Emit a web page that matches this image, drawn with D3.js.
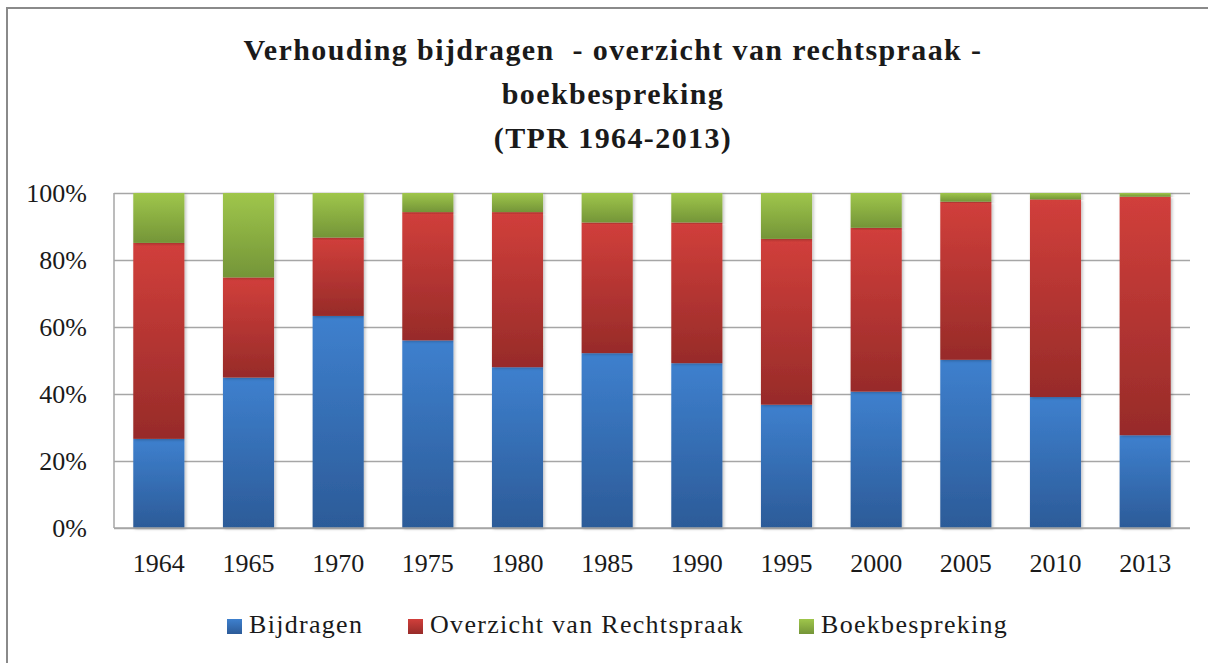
<!DOCTYPE html>
<html>
<head>
  <title>Verhouding bijdragen</title>
  <script src="https://d3js.org/d3.v7.min.js"></script>
  <style>
    html, body { margin: 0; background: #fff; overflow: hidden; }
    svg { display: block; }
    text { font-family: "Liberation Serif", "DejaVu Serif", serif; fill: #1a1a1a; }
  </style>
</head>
<body>

  <svg></svg>

  <script>

    // Data (share in %)
    var years = ["1964", "1965", "1970", "1975", "1980", "1985", "1990", "1995", "2000", "2005", "2010", "2013"];
    var bijdragen = [26.6, 44.9, 63.3, 56.0, 48.0, 52.2, 49.2, 36.8, 40.7, 50.2, 39.1, 27.7];
    var overzicht = [58.5, 29.9, 23.4, 38.3, 46.3, 39.0, 42.0, 49.5, 48.9, 47.2, 59.0, 71.2];
    var boek      = [14.9, 25.2, 13.3, 5.7, 5.7, 8.8, 8.8, 13.7, 10.4, 2.6, 1.9, 1.1];
    var yTicks = [0, 0.2, 0.4, 0.6, 0.8, 1];
    var seriesNames = ["Bijdragen", "Overzicht van Rechtspraak", "Boekbespreking"];
    var titleLines = ["Verhouding bijdragen  - overzicht van rechtspraak -", "boekbespreking", "(TPR 1964-2013)"];

    var W = 1208, H = 663;
    var margin = {top: 193, right: 18, bottom: 135, left: 114},
        width = W - margin.left - margin.right,
        height = H - margin.top - margin.bottom;

    var svg = d3.select("svg")
        .attr("width", W)
        .attr("height", H);

    // gradients per series (light top, dark bottom)
    var grads = [
      {id: "gBlue",  top: "#3e80ce", bottom: "#2c5b98"},
      {id: "gRed",   top: "#d13f3b", bottom: "#972b29"},
      {id: "gGreen", top: "#9fc64b", bottom: "#749538"}
    ];
    var defs = svg.append("defs");
    grads.forEach(function(g) {
      var lg = defs.append("linearGradient")
          .attr("id", g.id)
          .attr("x1", 0).attr("y1", 0).attr("x2", 0).attr("y2", 1);
      lg.append("stop").attr("offset", "0%").attr("stop-color", g.top);
      lg.append("stop").attr("offset", "100%").attr("stop-color", g.bottom);
    });
    var shadow = defs.append("filter").attr("id", "shadow")
        .attr("x", "-20%").attr("y", "-5%").attr("width", "140%").attr("height", "110%");
    shadow.append("feDropShadow")
        .attr("dx", 1.5).attr("dy", 1).attr("stdDeviation", 1.5)
        .attr("flood-color", "#000").attr("flood-opacity", 0.25);

    // outer chart frame: only the top and left edges are in view
    svg.append("path")
        .attr("d", "M7," + H + "V8H" + W)
        .attr("fill", "none")
        .attr("stroke", "#8a8a8a")
        .attr("stroke-width", 2);

    // title
    svg.append("g").selectAll("text")
        .data(titleLines)
      .enter().append("text")
        .attr("x", 613)
        .attr("y", function(d, i) { return 60 + i * 44; })
        .attr("text-anchor", "middle")
        .style("font-size", "30px")
        .style("font-weight", "bold")
        .style("letter-spacing", "1.4px")
        .style("white-space", "pre")
        .text(function(d) { return d; });

    var g = svg.append("g")
        .attr("transform", "translate(" + margin.left + "," + margin.top + ")");

    var x = d3.scaleBand()
        .domain(years)
        .range([0, width])
        .paddingInner(0.43)
        .paddingOuter(0.215);

    var y = d3.scaleLinear().domain([0, 1]).range([height, 0]);

    // gridlines
    g.append("g")
        .call(d3.axisLeft(y).tickValues(yTicks).tickSize(-width).tickFormat(""))
        .call(function(a) {
          a.select(".domain").remove();
          a.selectAll("line").attr("stroke", "#a6a6a6").attr("stroke-width", 1.5);
        });

    // stacked data
    var rows = years.map(function(yr, i) {
      return {year: yr, b: bijdragen[i] / 100, o: overzicht[i] / 100, k: boek[i] / 100};
    });
    var stack = d3.stack().keys(["b", "o", "k"]);
    var layers = stack(rows);

    g.selectAll(".layer")
        .data(layers)
      .enter().append("g")
        .attr("class", "layer")
        .attr("fill", function(d, i) { return "url(#" + grads[i].id + ")"; })
        .selectAll("rect")
        .data(function(d) { return d; })
      .enter().append("rect")
        .attr("x", function(d) { return x(d.data.year); })
        .attr("y", function(d) { return y(d[1]); })
        .attr("width", x.bandwidth())
        .attr("height", function(d) { return y(d[0]) - y(d[1]); })
        .attr("filter", "url(#shadow)");

    // axes lines
    g.append("line")
        .attr("x1", 0).attr("x2", 0).attr("y1", 0).attr("y2", height)
        .attr("stroke", "#a6a6a6").attr("stroke-width", 1.5);
    g.append("line")
        .attr("x1", 0).attr("x2", width).attr("y1", height).attr("y2", height)
        .attr("stroke", "#a6a6a6").attr("stroke-width", 1.5);

    // y axis labels
    g.append("g")
        .call(d3.axisLeft(y).tickValues(yTicks).tickSize(0).tickPadding(27).tickFormat(d3.format(".0%")))
        .call(function(a) {
          a.select(".domain").remove();
          a.selectAll("text").style("font-size", "26px").attr("fill", "#1a1a1a");
        });

    // x axis labels
    g.append("g")
        .attr("transform", "translate(0," + height + ")")
        .call(d3.axisBottom(x).tickSize(0).tickPadding(26))
        .call(function(a) {
          a.select(".domain").remove();
          a.selectAll("text").style("font-size", "26px").attr("fill", "#1a1a1a");
        });

    // legend
    var legendX = [227, 408, 799];
    var legend = svg.append("g").selectAll("g")
        .data(seriesNames)
      .enter().append("g")
        .attr("transform", function(d, i) { return "translate(" + legendX[i] + ",619)"; });
    legend.append("rect")
        .attr("width", 15).attr("height", 15)
        .attr("fill", function(d, i) { return "url(#" + grads[i].id + ")"; });
    legend.append("text")
        .attr("x", 22)
        .attr("y", 14)
        .style("font-size", "26px")
        .style("letter-spacing", "1.3px")
        .text(function(d) { return d; });

  </script>

</body>
</html>
